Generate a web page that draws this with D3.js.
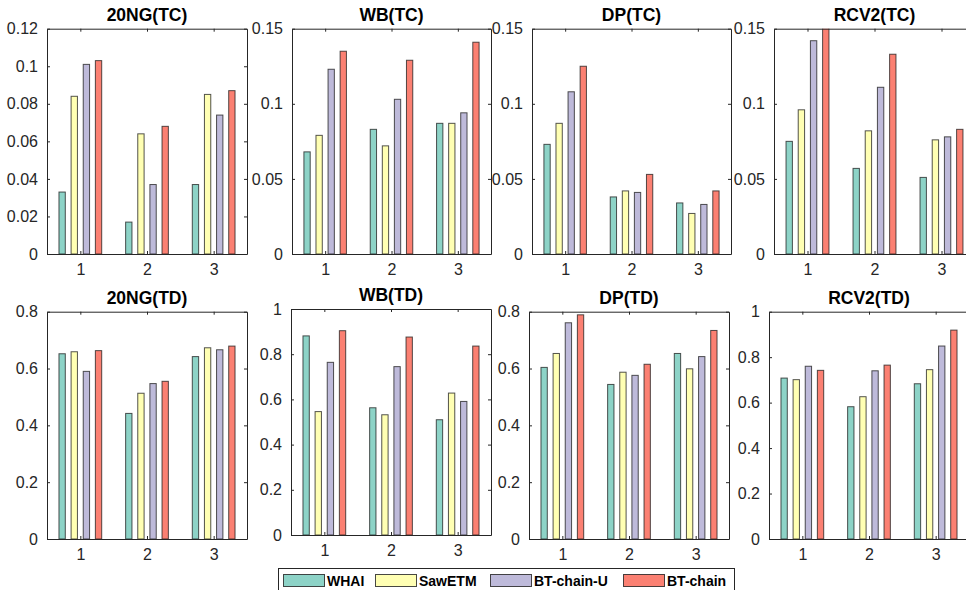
<!DOCTYPE html>
<html>
<head>
<meta charset="utf-8">
<title>TC / TD bars</title>
<script src="https://cdn.jsdelivr.net/npm/d3@7"></script>
<style>
  body { margin: 0; background: #fff; }
  svg { display: block; font-family: "Liberation Sans", Arial, sans-serif; }
</style>
</head>
<body>
<div id="chart"></div>
<script>
// ---- data ----
var groups = [1, 2, 3];
var seriesNames = ["WHAI", "SawETM", "BT-chain-U", "BT-chain"];
var seriesColors = ["#8dd3c7", "#ffffb3", "#bebada", "#fb8072"];
var panelTitles = ["20NG(TC)", "WB(TC)", "DP(TC)", "RCV2(TC)", "20NG(TD)", "WB(TD)", "DP(TD)", "RCV2(TD)"];

// one row per group (1,2,3), one value per series
var ng20TC = [[0.033, 0.084, 0.101, 0.103], [0.017, 0.064, 0.037, 0.068], [0.037, 0.085, 0.074, 0.087]];
var wbTC   = [[0.068, 0.079, 0.123, 0.135], [0.083, 0.072, 0.103, 0.129], [0.087, 0.087, 0.094, 0.141]];
var dpTC   = [[0.073, 0.087, 0.108, 0.125], [0.038, 0.042, 0.041, 0.053], [0.034, 0.027, 0.033, 0.042]];
var rcvTC  = [[0.075, 0.096, 0.142, 0.153], [0.057, 0.082, 0.111, 0.133], [0.051, 0.076, 0.078, 0.083]];
var ng20TD = [[0.652, 0.659, 0.590, 0.663], [0.442, 0.513, 0.547, 0.555], [0.642, 0.673, 0.666, 0.679]];
var wbTD   = [[0.881, 0.546, 0.764, 0.904], [0.563, 0.532, 0.745, 0.876], [0.510, 0.628, 0.591, 0.836]];
var dpTD   = [[0.604, 0.653, 0.761, 0.789], [0.544, 0.587, 0.576, 0.615], [0.653, 0.599, 0.642, 0.734]];
var rcvTD  = [[0.708, 0.701, 0.760, 0.742], [0.582, 0.626, 0.740, 0.765], [0.683, 0.745, 0.849, 0.919]];

var ticks012 = [0, 0.02, 0.04, 0.06, 0.08, 0.1, 0.12];
var ticks015 = [0, 0.05, 0.1, 0.15];
var ticks08  = [0, 0.2, 0.4, 0.6, 0.8];
var ticks1   = [0, 0.2, 0.4, 0.6, 0.8, 1];

var panelValues = [ng20TC, wbTC, dpTC, rcvTC, ng20TD, wbTD, dpTD, rcvTD];
var panelTicks  = [ticks012, ticks015, ticks015, ticks015, ticks08, ticks1, ticks08, ticks1];

// ---- layout ----
var W = 966, H = 590;
var boxes = [
  {x: 47,  y: 28.7,  w: 200, h: 225.3},
  {x: 292, y: 28.7,  w: 199, h: 225.3},
  {x: 532, y: 28.7,  w: 199, h: 225.3},
  {x: 774, y: 28.7,  w: 201, h: 225.3},
  {x: 47,  y: 311.7, w: 200, h: 227.3},
  {x: 291, y: 309,   w: 200, h: 226},
  {x: 529, y: 311.7, w: 200, h: 227.3},
  {x: 769, y: 311.7, w: 200, h: 227.3}
];
var axisColor = "#262626";
var offsets = [-0.273, -0.091, 0.091, 0.273];
var barW = 0.095;
var fmt = d3.format("~g");

var svg = d3.select("#chart").append("svg").attr("width", W).attr("height", H);
var defs = svg.append("defs");

boxes.forEach(function (b, i) {
  var vals = panelValues[i], tks = panelTicks[i];
  var x = d3.scaleLinear().domain([0.5, 3.5]).range([0, b.w]);
  var y = d3.scaleLinear().domain([0, tks[tks.length - 1]]).range([b.h, 0]);
  var g = svg.append("g").attr("transform", "translate(" + b.x + "," + b.y + ")");

  defs.append("clipPath").attr("id", "clip" + i)
    .append("rect").attr("width", b.w).attr("height", b.h);

  // bars
  var rows = [];
  vals.forEach(function (row, gi) {
    row.forEach(function (v, si) { rows.push({g: groups[gi], s: si, v: v}); });
  });
  g.append("g").attr("clip-path", "url(#clip" + i + ")")
    .selectAll("rect").data(rows).enter().append("rect")
    .attr("x", function (d) { return x(d.g + offsets[d.s] - barW / 2); })
    .attr("width", function () { return x(barW) - x(0); })
    .attr("y", function (d) { return y(d.v); })
    .attr("height", function (d) { return y(0) - y(d.v); })
    .attr("fill", function (d) { return seriesColors[d.s]; })
    .attr("stroke", "#1a1a1a").attr("stroke-opacity", 0.75).attr("stroke-width", 1);

  // axes: ticks inside, box all round
  var yl = g.append("g").call(d3.axisLeft(y).tickValues(tks).tickFormat(fmt).tickSizeInner(-3).tickSizeOuter(0).tickPadding(9));
  var yr = g.append("g").attr("transform", "translate(" + b.w + ",0)")
    .call(d3.axisRight(y).tickValues(tks).tickFormat("").tickSizeInner(-3).tickSizeOuter(0));
  var xb = g.append("g").attr("transform", "translate(0," + b.h + ")")
    .call(d3.axisBottom(x).tickValues(groups).tickFormat(d3.format("d")).tickSizeInner(-3).tickSizeOuter(0).tickPadding(10));
  var xt = g.append("g").call(d3.axisTop(x).tickValues(groups).tickFormat("").tickSizeInner(-3).tickSizeOuter(0));
  [yl, yr, xb, xt].forEach(function (a) {
    a.attr("font-size", null).attr("font-family", null);
    a.select(".domain").attr("stroke", axisColor).attr("stroke-width", 1);
    a.selectAll(".tick line").attr("stroke", axisColor);
    a.selectAll("text").attr("fill", axisColor).style("font-size", "16px");
  });

  g.append("text").attr("x", b.w / 2).attr("y", -8).attr("text-anchor", "middle")
    .style("font-size", "17.5px").style("font-weight", "bold").attr("fill", "#000")
    .text(panelTitles[i]);
});

// legend
var leg = svg.append("g");
leg.append("rect").attr("x", 278.5).attr("y", 568.5).attr("width", 456).attr("height", 30)
  .attr("fill", "#fff").attr("stroke", axisColor).attr("stroke-width", 1);
var legX = [283, 375, 490, 623];
seriesNames.forEach(function (n, si) {
  leg.append("rect").attr("x", legX[si] + 0.5).attr("y", 574.5).attr("width", 41).attr("height", 12)
    .attr("fill", seriesColors[si]).attr("stroke", "#1a1a1a").attr("stroke-opacity", 0.8);
  leg.append("text").attr("x", legX[si] + 44).attr("y", 586)
    .style("font-size", "14px").style("font-weight", "bold").attr("fill", "#000").text(n);
});
</script>
</body>
</html>
